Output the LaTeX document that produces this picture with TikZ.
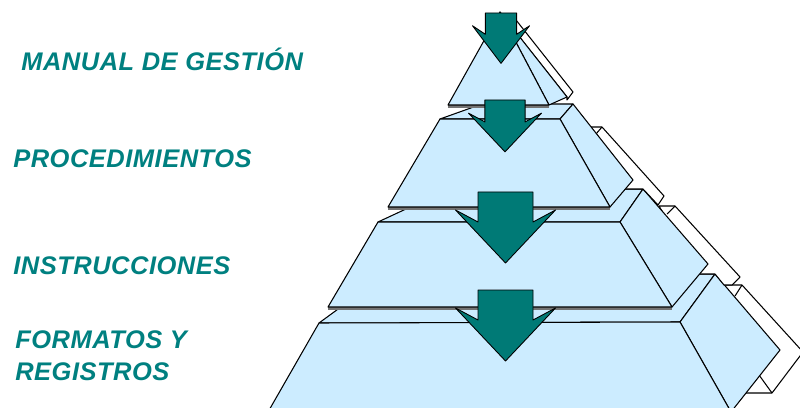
\documentclass[tikz,border=0pt]{standalone}
\usepackage{fontspec}
\setmainfont{Liberation Sans}
\newfontfamily\rotulo{Liberation Sans}[LetterSpace=2]
\usepackage{xcolor}
\usepackage{tikz}

\definecolor{azulcara}{RGB}{204,236,255}
\definecolor{verdeazul}{RGB}{0,128,128}
\definecolor{flechaverde}{RGB}{0,122,118}

\begin{document}
\begin{tikzpicture}[
    x=0.02cm, y=-0.02cm, line join=round,
    cara/.style={fill=azulcara, draw=black, line width=0.6pt},
    sombra/.style={fill=white, draw=black, line width=0.6pt},
    borde/.style={draw=black!55, line width=1.4pt},
    arista/.style={draw=black, line width=0.6pt},
    etiqueta/.style={font=\rotulo\fontsize{14.5}{18}\selectfont\bfseries\itshape, text=verdeazul, inner sep=0pt, anchor=base west},
    flecha/.pic={\draw[fill=flechaverde, line width=0.5pt] (-27.5,0) -- (27.5,0) -- (27.5,30) -- (50,18) -- (0,71) -- (-50,18) -- (-27.5,30) -- cycle;},
]
    \clip (0,0) rectangle (800,408);

    % nivel 4
    \draw[cara] (319,323) -- (386,274) -- (715,274) -- (680,322) -- cycle;
    \draw[sombra] (724,285) -- (742,285) -- (803,352) -- (772,393) -- (744,393) -- cycle;
    \draw[arista] (742,285) -- (735,296) (759,375) -- (772,393);
    \draw[cara] (680,322) -- (715,274) -- (780,350) -- (731,412) -- cycle;
    \draw[cara] (319,323) -- (680,322) -- (731,412) -- (268,412) -- cycle;

    % nivel 3
    \draw[cara] (378,222) -- (449,189) -- (643,189) -- (620,222) -- cycle;
    \draw[sombra] (659,206) -- (675,206) -- (740,277) -- (732,285) -- (724,285) -- (715,274) -- (699,274) -- cycle;
    \draw[arista] (675,206) -- (667,214);
    \draw[cara] (620,222) -- (643,189) -- (708,264) -- (672,307) -- cycle;
    \draw[borde] (328,308.5) -- (672,308.5);
    \draw[cara] (378,222) -- (620,222) -- (672,307) -- (328,307) -- cycle;

    % nivel 2
    \draw[cara] (440,119) -- (482,104) -- (573,104) -- (560,119) -- cycle;
    \draw[sombra] (591,127) -- (602,127) -- (664,196) -- (658,205) -- (643,189) -- (625,189) -- cycle;
    \draw[arista] (602,127) -- (596,134);
    \draw[cara] (560,119) -- (573,104) -- (633,180) -- (610,207) -- cycle;
    \draw[borde] (388,208.5) -- (610,208.5);
    \draw[cara] (440,119) -- (560,119) -- (610,207) -- (388,207) -- cycle;

    % nivel 1
    \draw[sombra] (506,20) -- (516,20) -- (573,92) -- (567,100) -- (567,97) -- cycle;
    \draw[cara] (500,12) -- (567,97) -- (549,105) -- cycle;
    \draw[borde] (448,106.5) -- (549,106.5);
    \draw[cara] (500,12) -- (549,105) -- (448,105) -- cycle;

    % flechas
    \pic[xscale=0.57, yscale=0.71] at (501,13) {flecha};
    \pic[scale=0.73] at (505,100) {flecha};
    \pic at (505.5,192) {flecha};
    \pic at (505.5,290) {flecha};

    \node[etiqueta] (manual) at (21,71) {MANUAL DE GESTIÓN};
    \node[etiqueta] (proced) at (13,168) {PROCEDIMIENTOS};
    \node[etiqueta] (instruc) at (13,275) {INSTRUCCIONES};
    \node[etiqueta] (formatos) at (15,348) {FORMATOS Y};
    \node[etiqueta] (registros) at (15,380) {REGISTROS};
\end{tikzpicture}
\end{document}
